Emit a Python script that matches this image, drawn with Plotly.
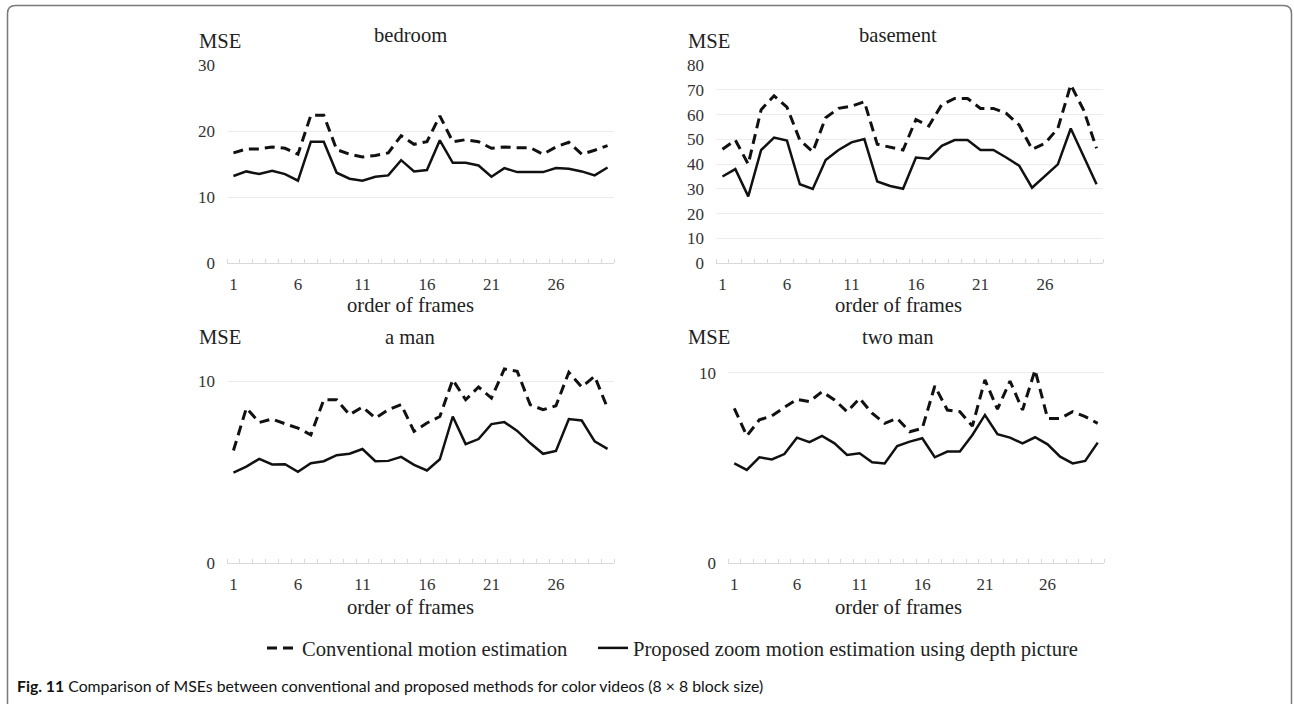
import plotly.graph_objects as go

frames = list(range(1, 31))
x_ticks = [1, 6, 11, 16, 21, 26]

panel_titles = ["bedroom", "basement", "a man", "two man"]
series_names = ["Conventional motion estimation",
                "Proposed zoom motion estimation using depth picture"]

bedroom_conv = [16.7, 17.3, 17.3, 17.6, 17.4, 16.5, 22.4, 22.4, 17.2, 16.5,
                16.1, 16.3, 16.7, 19.3, 18.0, 18.4, 22.3, 18.4, 18.7, 18.4,
                17.4, 17.6, 17.5, 17.5, 16.5, 17.6, 18.3, 16.5, 17.1, 17.8]
bedroom_prop = [13.2, 13.9, 13.5, 14.0, 13.5, 12.5, 18.4, 18.4, 13.7, 12.8,
                12.5, 13.1, 13.3, 15.6, 13.9, 14.1, 18.6, 15.2, 15.2, 14.8,
                13.1, 14.4, 13.8, 13.8, 13.8, 14.4, 14.3, 13.9, 13.3, 14.5]

basement_conv = [46, 49.7, 40, 62, 67.6, 63, 49.7, 45, 58.7, 62.5,
                 63.4, 65.2, 48, 47, 45.7, 58, 55.4, 64, 66.5, 66.5,
                 62.5, 62.5, 60.5, 55.8, 46, 48.4, 54.4, 72, 61.8, 46.4]
basement_prop = [35, 38, 27, 45.7, 50.7, 49.5, 31.9, 30, 41.7, 45.7,
                 48.8, 50.1, 33, 31.2, 30.1, 42.7, 42.2, 47.4, 49.7, 49.7,
                 45.7, 45.7, 42.7, 39.4, 30.5, 35, 39.9, 54.4, 43, 31.9]

aman_conv = [6.2, 8.53, 7.74, 7.93, 7.67, 7.43, 7.06, 8.99, 8.99, 8.17,
             8.59, 7.98, 8.44, 8.72, 7.25, 7.71, 8.07, 10.09, 8.99, 9.69,
             9.08, 10.68, 10.55, 8.72, 8.44, 8.66, 10.5, 9.69, 10.28, 8.53]
aman_prop = [4.99, 5.32, 5.74, 5.43, 5.45, 5.03, 5.5, 5.61, 5.94, 6.02,
             6.28, 5.61, 5.63, 5.85, 5.41, 5.1, 5.72, 8.07, 6.55, 6.83,
             7.65, 7.76, 7.28, 6.61, 6.02, 6.18, 7.93, 7.85, 6.7, 6.29]

twoman_conv = [8.13, 6.68, 7.52, 7.73, 8.18, 8.6, 8.48, 9.0, 8.57, 7.95,
               8.65, 7.87, 7.34, 7.6, 6.9, 7.08, 9.3, 8.04, 7.95, 7.2,
               9.62, 8.08, 9.56, 8.04, 10.14, 7.6, 7.6, 7.95, 7.69, 7.34]
twoman_prop = [5.24, 4.9, 5.56, 5.45, 5.73, 6.59, 6.35, 6.68, 6.29, 5.68,
               5.77, 5.3, 5.24, 6.15, 6.38, 6.56, 5.56, 5.86, 5.86, 6.73,
               7.78, 6.77, 6.59, 6.29, 6.61, 6.24, 5.59, 5.24, 5.37, 6.33]

y_ranges = [[0, 30], [0, 80], [0, 10.9], [0, 10.4]]
y_ticks = [[0, 10, 20, 30], [0, 10, 20, 30, 40, 50, 60, 70, 80], [0, 10], [0, 10]]

conv_data = [bedroom_conv, basement_conv, aman_conv, twoman_conv]
prop_data = [bedroom_prop, basement_prop, aman_prop, twoman_prop]

W, H = 1294, 704
SERIF = "Liberation Serif"
TXT = 20.6

# pixel boxes of plot areas: (left, right, top, bottom)
boxes = [(227, 614, 65, 263.3), (716, 1103, 65, 263.3),
         (227, 614, 365, 563.3), (728, 1104, 365, 563.3)]
title_centers = [(410, 35), (898, 35), (410, 337), (898, 337)]
mse_pos = [(197, 41), (686, 41), (197, 337), (686, 337)]
xtitle_y = [305, 305, 607, 607]

fig = go.Figure()
layout = {}
for i in range(4):
    n = "" if i == 0 else str(i + 1)
    l, r, t, b = boxes[i]
    layout["xaxis" + n] = dict(
        domain=[l / W, r / W], anchor="y" + n, range=[0.5, 30.5],
        tickmode="array", tickvals=x_ticks, ticks="", showgrid=False,
        showline=True, linecolor="#d9d9d9", linewidth=1,
        tickfont=dict(family=SERIF, size=17, color="#333333"),
        ticklabelstandoff=5, zeroline=False,
        minor=dict(ticks="inside", tickmode="linear", tick0=0.5, dtick=1,
                   ticklen=4, tickcolor="#d9d9d9", tickwidth=1, showgrid=False),
    )
    layout["yaxis" + n] = dict(
        domain=[1 - b / H, 1 - t / H], anchor="x" + n, range=y_ranges[i],
        tickmode="array", tickvals=y_ticks[i], ticks="", showgrid=True,
        gridcolor="#ececec", gridwidth=1, showline=False, zeroline=False,
        tickfont=dict(family=SERIF, size=17, color="#333333"),
        ticklabelstandoff=11,
    )
    xa = "x" + n
    ya = "y" + n
    fig.add_trace(go.Scatter(
        x=frames, y=conv_data[i], mode="lines", name=series_names[0],
        line=dict(color="#111111", width=3, dash="10px,6px"),
        xaxis=xa, yaxis=ya, legendgroup="conv", showlegend=(i == 0),
        legend="legend"))
    fig.add_trace(go.Scatter(
        x=frames, y=prop_data[i], mode="lines", name=series_names[1],
        line=dict(color="#111111", width=2.5),
        xaxis=xa, yaxis=ya, legendgroup="prop", showlegend=(i == 0),
        legend="legend2"))

annotations = []
for i in range(4):
    cx, cy = title_centers[i]
    annotations.append(dict(text=panel_titles[i], x=cx / W, y=1 - cy / H,
                            xref="paper", yref="paper", showarrow=False,
                            xanchor="center", yanchor="middle",
                            font=dict(family=SERIF, size=TXT, color="#222222")))
    mx, my = mse_pos[i]
    annotations.append(dict(text="MSE", x=mx / W, y=1 - my / H,
                            xref="paper", yref="paper", showarrow=False,
                            xanchor="left", yanchor="middle",
                            font=dict(family=SERIF, size=TXT, color="#222222")))
    annotations.append(dict(text="order of frames", x=title_centers[i][0] / W,
                            y=1 - xtitle_y[i] / H, xref="paper", yref="paper",
                            showarrow=False, xanchor="center", yanchor="middle",
                            font=dict(family=SERIF, size=TXT, color="#222222")))

annotations.append(dict(
    text="<b>Fig. 11</b> Comparison of MSEs between conventional and proposed methods for color videos (8 × 8 block size)",
    x=15 / W, y=1 - 685 / H, xref="paper", yref="paper", showarrow=False,
    xanchor="left", yanchor="middle",
    font=dict(family="Lato", size=15.8, color="#111111")))

# rounded frame border (open at the bottom)
x0, x1, yt = 7.5 / W, 1291.5 / W, 1 - 5.5 / H
rx, ry = 8 / W, 8 / H
path = (f"M {x0},0 L {x0},{yt - ry} Q {x0},{yt} {x0 + rx},{yt} "
        f"L {x1 - rx},{yt} Q {x1},{yt} {x1},{yt - ry} L {x1},0")

legend_common = dict(orientation="h", xanchor="left", y=1 - 648 / H,
                     yanchor="middle",
                     font=dict(family=SERIF, size=TXT, color="#222222"),
                     bgcolor="rgba(0,0,0,0)", itemwidth=30)

fig.update_layout(
    **layout,
    width=W, height=H,
    margin=dict(l=0, r=0, t=0, b=0, pad=0, autoexpand=False),
    paper_bgcolor="white", plot_bgcolor="white",
    annotations=annotations,
    shapes=[dict(type="path", path=path, xref="paper", yref="paper",
                 line=dict(color="#7a7a7a", width=1.5))],
    legend=dict(x=262 / W, **legend_common),
    legend2=dict(x=593 / W, **legend_common),
    showlegend=True,
)

fig.write_html("out.html",
               config={"displayModeBar": False},
               post_script="document.body.style.margin='0';document.body.style.overflow='hidden';")
